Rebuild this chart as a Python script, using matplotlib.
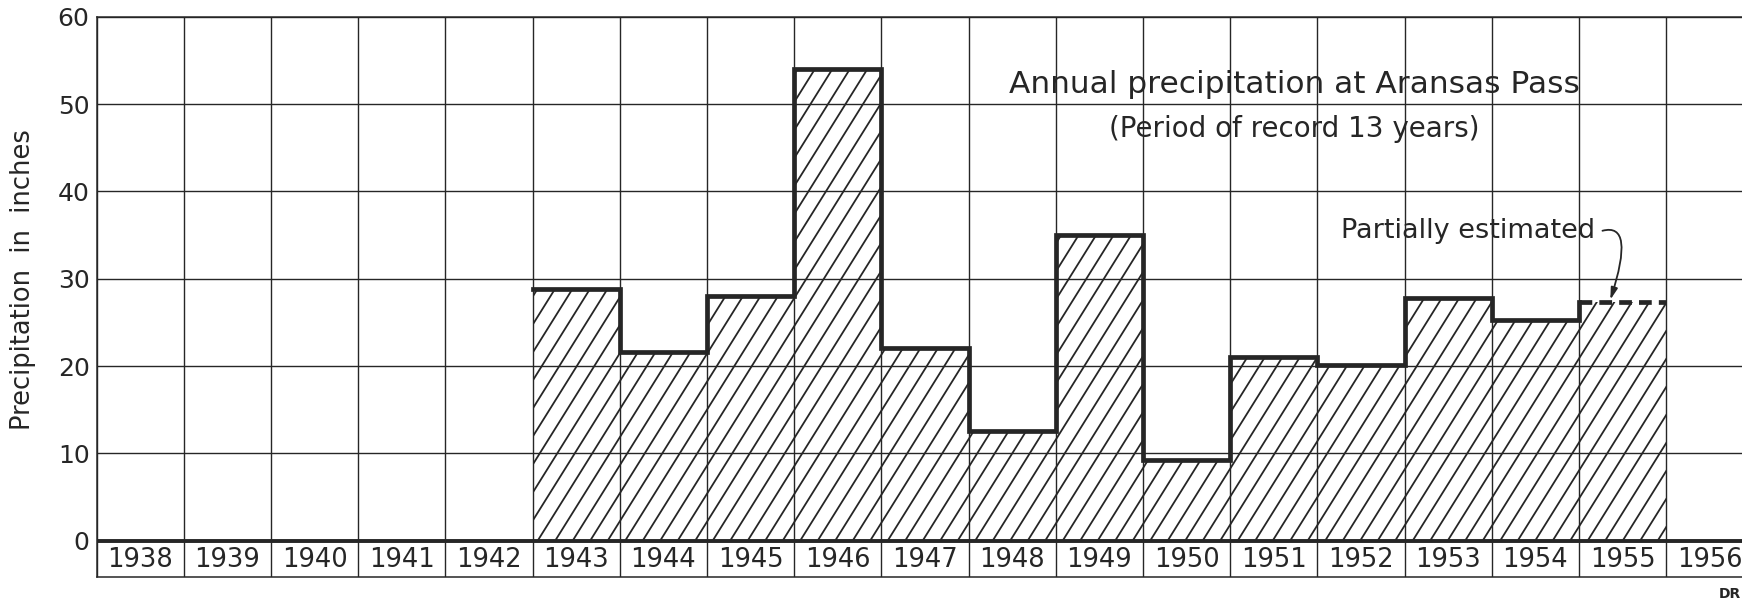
import matplotlib
matplotlib.use("Agg")
import matplotlib.pyplot as plt
from matplotlib.collections import LineCollection
from matplotlib.patches import Polygon
import numpy as np

# Data
years = list(range(1938, 1957))
rain_years = [1943, 1944, 1945, 1946, 1947, 1948, 1949, 1950, 1951, 1952, 1953, 1954, 1955]
rain_inches = [28.8, 21.6, 28.0, 54.0, 22.1, 12.6, 35.0, 9.2, 21.0, 20.1, 27.8, 25.3, 27.3]
estimated_year = 1955
y_ticks = [0, 10, 20, 30, 40, 50, 60]

INK = "#262626"
W, H, DPI = 1742, 602, 100

fig = plt.figure(figsize=(W / DPI, H / DPI), dpi=DPI)
ax_left, ax_bottom, ax_w, ax_h = 0.0554, 0.0409, 0.9511, 0.9311
ax = fig.add_axes([ax_left, ax_bottom, ax_w, ax_h])

x0 = years[0]
ncols = len(years)
ymin, ymax = -4.2, 60.0
ax.set_xlim(0, ncols)
ax.set_ylim(ymin, ymax)

# grid: one column per year, a line every 10 inches
ax.set_xticks(range(ncols + 1))
ax.set_xticklabels([])
ax.set_yticks(y_ticks)
ax.set_yticklabels([str(t) for t in y_ticks], fontsize=18, color=INK)
ax.tick_params(length=0, pad=5)
ax.grid(True, color=INK, lw=1.0)
ax.set_axisbelow(False)
for s in ax.spines.values():
    s.set_color(INK)
    s.set_linewidth(1.1)
ax.spines["right"].set_visible(False)

# heavy zero line
ax.axhline(0, color=INK, lw=2.8, zorder=3)

# year labels in the strip under the zero line
for i, yr in enumerate(years):
    ax.text(i + 0.5, ymin / 2 - 0.1, str(yr), ha="center", va="center",
            fontsize=18.5, color=INK)

# bar outline polygon (for hatch clipping)
xs = [yr - x0 for yr in rain_years]
verts = [(xs[0], 0)]
for x, v in zip(xs, rain_inches):
    verts += [(x, v), (x + 1, v)]
verts += [(xs[-1] + 1, 0)]
clip = Polygon(verts, closed=True, facecolor="none", edgecolor="none")
ax.add_patch(clip)

# steep diagonal hatch (~58 deg on screen)
px_x = W * ax_w / ncols
px_y = H * ax_h / (ymax - ymin)
ang = np.deg2rad(58)
run = (60 * px_y / np.tan(ang)) / px_x      # data-x shift over 60 inches
step = 17.5 / px_x                           # px between lines
segs = [[(c, 0), (c + run, 60)] for c in np.arange(xs[0] - run, xs[-1] + 1, step)]
hatch = LineCollection(segs, colors=INK, linewidths=1.3, zorder=2)
hatch.set_clip_path(clip)
ax.add_collection(hatch)

# heavy step outline, measured years solid, last year dashed
n_meas = rain_years.index(estimated_year)
sx = xs[:n_meas + 1]
sy = rain_inches[:n_meas + 1]
ax.plot(sx, sy, drawstyle="steps-post", color=INK, lw=3.4,
        solid_joinstyle="miter", zorder=4)
xe = xs[n_meas]
ax.plot([xe, xe + 1], [rain_inches[n_meas]] * 2, color=INK, lw=3.4,
        linestyle=(0, (2.7, 1.5)), zorder=4)

# titles
ax.text(13.74, 52.2, "Annual precipitation at Aransas Pass", ha="center",
        va="center", fontsize=22.5, color=INK)
ax.text(13.74, 47.2, "(Period of record 13 years)", ha="center",
        va="center", fontsize=20, color=INK)

# partially estimated note with curved arrow
ax.text(17.19, 35.5, "Partially estimated", ha="right", va="center",
        fontsize=19.5, color=INK)
ax.annotate("", xy=(xe + 0.36, rain_inches[n_meas] + 0.3), xytext=(17.27, 35.5),
            arrowprops=dict(arrowstyle="-|>,head_length=0.7,head_width=0.2",
                            connectionstyle="angle3,angleA=15,angleB=72",
                            color=INK, lw=1.3, shrinkA=0, shrinkB=0),
            zorder=5)

ax.set_ylabel("Precipitation  in  inches", fontsize=18.5, color=INK, va="center")
ax.yaxis.set_label_coords(-0.0444, 0.531)

fig.text(1741 / W, 1 / H, "DR", ha="right", va="bottom", fontsize=10,
         fontweight="bold", color=INK)

fig.savefig("out.png", dpi=DPI)
